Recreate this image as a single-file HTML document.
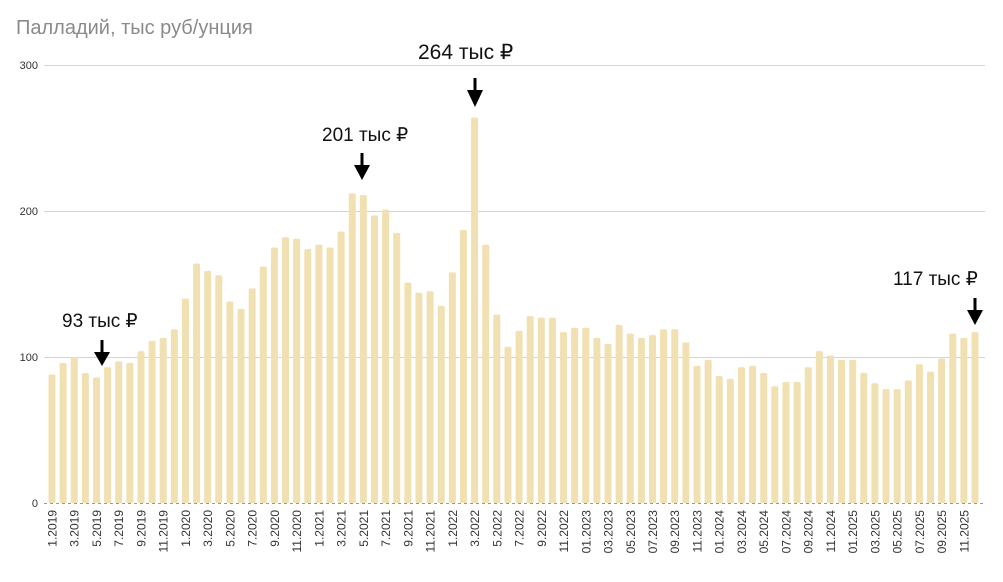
<!DOCTYPE html>
<html><head><meta charset="utf-8"><style>
body{margin:0;background:#fff;width:1003px;height:577px;overflow:hidden;font-family:"Liberation Sans",sans-serif}
</style></head><body>
<svg width="1003" height="577" xmlns="http://www.w3.org/2000/svg" font-family="Liberation Sans, sans-serif">
<text x="16" y="34" font-size="20" fill="#8a8a8a">Палладий, тыс руб/унция</text>
<g stroke="#d4d4d4" stroke-width="1">
<line x1="44" x2="985" y1="65.5" y2="65.5"/><line x1="44" x2="985" y1="211.5" y2="211.5"/><line x1="44" x2="985" y1="357.5" y2="357.5"/>
</g>
<line x1="44" x2="985" y1="503.5" y2="503.5" stroke="#999" stroke-dasharray="3,3"/>
<g font-size="11" fill="#333" text-anchor="end">
<text x="38" y="69">300</text><text x="38" y="215">200</text><text x="38" y="361">100</text><text x="38" y="507">0</text>
</g>
<g id="bars" fill="#f0e0b2"></g>
<g id="labels" font-size="12" fill="#333" text-anchor="end"></g>
<g font-size="19" fill="#111">
<text x="62" y="327">93 тыс ₽</text>
<text x="322" y="141">201 тыс ₽</text>
<text x="418" y="59" font-size="21">264 тыс ₽</text>
<text x="893" y="285">117  тыс ₽</text>
</g>
<g fill="#000">
<rect x="100.5" y="340" width="3" height="14"/><polygon points="94,352 110,352 102,366"/>
<rect x="360.5" y="153" width="3" height="14"/><polygon points="354,165 370,165 362,180"/>
<rect x="473.5" y="78" width="3" height="14"/><polygon points="467,90 483,90 475,107"/>
<rect x="973.5" y="298" width="3" height="14"/><polygon points="967,310 983,310 975,325"/>
</g>
</svg>
<script>
var v=[88,96,100,89,86,93,97,96,104,111,113,119,
140,164,159,156,138,133,147,162,175,182,181,174,
177,175,186,212,211,197,201,185,151,144,145,135,
158,187,264,177,129,107,118,128,127,127,117,120,
120,113,109,122,116,113,115,119,119,110,94,98,
87,85,93,94,89,80,83,83,93,104,101,98,
98,89,82,78,78,84,95,90,99,116,113,117];
var ns="http://www.w3.org/2000/svg",b=document.getElementById("bars"),l=document.getElementById("labels");
for(var i=0;i<v.length;i++){var x=52+i*(923/83);var h=v[i]*1.46;
var r=document.createElementNS(ns,"rect");r.setAttribute("x",x-3.5);r.setAttribute("y",503-h);r.setAttribute("width",7);r.setAttribute("height",h);r.setAttribute("rx",1.5);b.appendChild(r);
if(i%2==0){var yr=2019+Math.floor(i/12),m=i%12+1;var s=(yr>=2023&&m<10?"0":"")+m+"."+yr;
var t=document.createElementNS(ns,"text");t.setAttribute("transform","translate("+(x+4.5)+",510) rotate(-90)");t.textContent=s;l.appendChild(t);}}
</script>
</body></html>
